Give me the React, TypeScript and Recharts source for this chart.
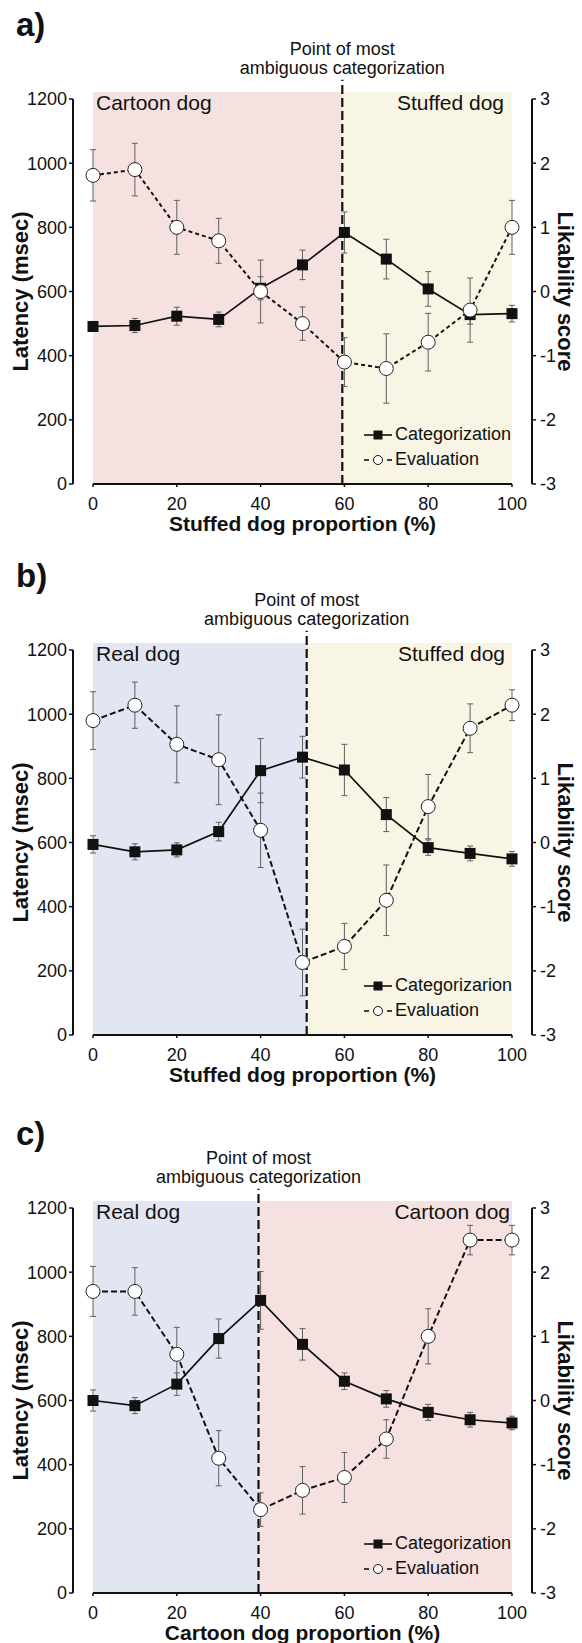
import React from "react";
import {
  ComposedChart,
  ErrorBar,
  Legend,
  Line,
  ReferenceArea,
  ReferenceLine,
  XAxis,
  YAxis,
} from "recharts";

const FONT = '"Liberation Sans", Arial, Helvetica, sans-serif';

const proportions = [0, 10, 20, 30, 40, 50, 60, 70, 80, 90, 100];
const xTicks = [0, 20, 40, 60, 80, 100];
const latencyTicks = [0, 200, 400, 600, 800, 1000, 1200];
const likabilityTicks = [-3, -2, -1, 0, 1, 2, 3];

// a) cartoon -> stuffed
const catA = [491, 494, 523, 513, 610, 683, 784, 701, 608, 528, 531];
const catErrA = [12, 22, 28, 23, 36, 46, 64, 62, 54, 30, 26];
const evalA = [1.81, 1.9, 1.0, 0.79, 0.0, -0.5, -1.1, -1.2, -0.79, -0.29, 1.0];
const evalErrA = [0.4, 0.41, 0.42, 0.35, 0.49, 0.26, 0.38, 0.54, 0.45, 0.5, 0.42];

// b) real -> stuffed
const catB = [594, 571, 577, 634, 824, 866, 826, 687, 584, 566, 549];
const catErrB = [27, 25, 22, 29, 100, 65, 80, 53, 24, 23, 23];
const evalB = [1.9, 2.14, 1.53, 1.29, 0.19, -1.87, -1.62, -0.9, 0.56, 1.78, 2.14];
const evalErrB = [0.45, 0.36, 0.6, 0.7, 0.58, 0.52, 0.36, 0.55, 0.5, 0.38, 0.24];

// c) real -> cartoon
const catC = [600, 584, 651, 793, 912, 775, 660, 605, 563, 540, 530];
const catErrC = [33, 25, 35, 61, 90, 49, 26, 26, 25, 23, 21];
const evalC = [1.7, 1.7, 0.72, -0.9, -1.7, -1.4, -1.2, -0.6, 1.0, 2.5, 2.5];
const evalErrC = [0.39, 0.37, 0.42, 0.43, 0.26, 0.37, 0.39, 0.3, 0.43, 0.23, 0.23];

const PINK = "#F6E1E1";
const CREAM = "#F9F5E5";
const BLUE = "#E2E5F2";

function AreaLabel(props: any) {
  const { viewBox, text, side, inset } = props;
  if (!viewBox) return null;
  const x = side === "left" ? viewBox.x + inset : viewBox.x + viewBox.width - inset;
  return (
    <text
      x={x}
      y={viewBox.y + 18}
      textAnchor={side === "left" ? "start" : "end"}
      fontSize={21}
      fontFamily={FONT}
      fill="#111"
    >
      {text}
    </text>
  );
}

function SplitLabel(props: any) {
  const { viewBox } = props;
  if (!viewBox) return null;
  const x = viewBox.x;
  return (
    <g fontSize={18} fontFamily={FONT} fill="#111" textAnchor="middle">
      <text x={x} y={viewBox.y - 25}>Point of most</text>
      <text x={x} y={viewBox.y - 6}>ambiguous categorization</text>
    </g>
  );
}

function XTitle(props: any) {
  const { viewBox, text } = props;
  if (!viewBox) return null;
  return (
    <text
      x={viewBox.x + viewBox.width / 2}
      y={viewBox.y + 46.5}
      textAnchor="middle"
      fontSize={21}
      fontWeight="bold"
      fontFamily={FONT}
      fill="#111"
    >
      {text}
    </text>
  );
}

function YTitle(props: any) {
  const { viewBox, text, side } = props;
  if (!viewBox) return null;
  const cy = viewBox.y + viewBox.height / 2;
  const x = side === "left" ? viewBox.x + 20 : viewBox.x + 34;
  const angle = side === "left" ? -90 : 90;
  return (
    <text
      x={x}
      y={cy}
      dy="0.36em"
      transform={`rotate(${angle}, ${x}, ${cy})`}
      textAnchor="middle"
      fontSize={22}
      fontWeight="bold"
      fontFamily={FONT}
      fill="#111"
    >
      {text}
    </text>
  );
}

function SquareDot(props: any) {
  const { cx, cy, index } = props;
  if (cx == null || cy == null) return <g key={`sq-${index}`} />;
  return <rect key={`sq-${index}`} x={cx - 5.5} y={cy - 5.5} width={11} height={11} fill="#111" />;
}

function LegendContent(props: any) {
  const { payload } = props;
  return (
    <div style={{ fontFamily: FONT, fontSize: 18, color: "#111" }}>
      {(payload || []).map((entry: any, i: number) => (
        <div key={i} style={{ display: "flex", alignItems: "center", height: 25 }}>
          <svg width={30} height={14} style={{ marginRight: 1 }}>
            {i === 0 ? (
              <>
                <line x1={0} y1={7} x2={28} y2={7} stroke="#111" strokeWidth={1.6} />
                <rect x={9.5} y={2.5} width={9} height={9} fill="#111" />
              </>
            ) : (
              <>
                <line x1={0} y1={7} x2={5} y2={7} stroke="#111" strokeWidth={1.6} />
                <line x1={23} y1={7} x2={28} y2={7} stroke="#111" strokeWidth={1.6} />
                <circle cx={14} cy={7} r={4.5} fill="#fff" stroke="#111" strokeWidth={1} />
              </>
            )}
          </svg>
          <span>{entry.value}</span>
        </div>
      ))}
    </div>
  );
}

interface PanelProps {
  top: number;
  letter: string;
  cat: number[];
  catErr: number[];
  ev: number[];
  evErr: number[];
  split: number;
  leftName: string;
  rightName: string;
  leftColor: string;
  rightColor: string;
  rightInset: number;
  xTitle: string;
  catName: string;
  evalDash: string;
}

function Panel(p: PanelProps) {
  const data = proportions.map((x, i) => ({
    x,
    cat: p.cat[i],
    catErr: p.catErr[i],
    ev: p.ev[i],
    evErr: p.evErr[i],
  }));
  const tickStyle = { fill: "#111", fontSize: 18, fontFamily: FONT };
  return (
    <div style={{ position: "absolute", left: 0, top: p.top, width: 582, height: 545 }}>
      <div
        style={{
          position: "absolute",
          left: 16,
          top: 8,
          fontFamily: FONT,
          fontWeight: "bold",
          fontSize: 33,
          lineHeight: "33px",
          color: "#111",
        }}
      >
        {p.letter}
      </div>
      <ComposedChart
        width={582}
        height={545}
        data={data}
        margin={{ top: 99, right: 0, bottom: 0, left: 0 }}
      >
        <XAxis
          dataKey="x"
          type="number"
          domain={[0, 100]}
          ticks={xTicks}
          padding={{ left: 20, right: 20 }}
          axisLine={false}
          tickLine={{ stroke: "#111", strokeWidth: 1.5 }}
          tickSize={3}
          tickMargin={10}
          height={61}
          tick={tickStyle}
          label={<XTitle text={p.xTitle} />}
        />
        <YAxis
          yAxisId="lat"
          domain={[0, 1200]}
          ticks={latencyTicks}
          width={73}
          axisLine={{ stroke: "#111", strokeWidth: 2 }}
          tickLine={{ stroke: "#111", strokeWidth: 1.5 }}
          tickSize={4}
          tickMargin={2}
          tick={tickStyle}
          label={<YTitle text="Latency (msec)" side="left" />}
        />
        <YAxis
          yAxisId="lik"
          orientation="right"
          domain={[-3, 3]}
          ticks={likabilityTicks}
          width={50}
          axisLine={{ stroke: "#111", strokeWidth: 2 }}
          tickLine={{ stroke: "#111", strokeWidth: 1.5 }}
          tickSize={4}
          tickMargin={4}
          tick={tickStyle}
          label={<YTitle text="Likability score" side="right" />}
        />
        <ReferenceArea
          yAxisId="lat"
          x1={0}
          x2={p.split}
          y1={0}
          y2={1222}
          fill={p.leftColor}
          fillOpacity={1}
          stroke="none"
          ifOverflow="visible"
          label={<AreaLabel text={p.leftName} side="left" inset={3} />}
        />
        <ReferenceArea
          yAxisId="lat"
          x1={p.split}
          x2={100}
          y1={0}
          y2={1222}
          fill={p.rightColor}
          fillOpacity={1}
          stroke="none"
          ifOverflow="visible"
          label={<AreaLabel text={p.rightName} side="right" inset={p.rightInset} />}
        />
        <ReferenceLine
          yAxisId="lat"
          segment={[
            { x: 0, y: 0 },
            { x: 100, y: 0 },
          ]}
          stroke="#111"
          strokeWidth={2}
          ifOverflow="visible"
        />
        <ReferenceLine
          yAxisId="lat"
          segment={[
            { x: p.split, y: 0 },
            { x: p.split, y: 1260 },
          ]}
          stroke="#111"
          strokeWidth={2.2}
          strokeDasharray="9 4"
          ifOverflow="visible"
          label={<SplitLabel />}
        />
        <Line
          yAxisId="lat"
          dataKey="cat"
          name={p.catName}
          stroke="#111"
          strokeWidth={1.7}
          dot={SquareDot}
          activeDot={false}
          isAnimationActive={false}
        >
          <ErrorBar dataKey="catErr" direction="y" width={3} stroke="#606060" strokeWidth={1} isAnimationActive={false} />
        </Line>
        <Line
          yAxisId="lik"
          dataKey="ev"
          name="Evaluation"
          stroke="#111"
          strokeWidth={2}
          strokeDasharray={p.evalDash}
          dot={{ r: 7, fill: "#fff", stroke: "#222", strokeWidth: 1, strokeDasharray: "none" }}
          activeDot={false}
          isAnimationActive={false}
        >
          <ErrorBar dataKey="evErr" direction="y" width={3} stroke="#606060" strokeWidth={1} isAnimationActive={false} />
        </Line>
        <Legend
          layout="vertical"
          align="center"
          verticalAlign="middle"
          content={<LegendContent />}
          wrapperStyle={{ left: 364, top: 422, width: 180, height: 50 }}
        />
      </ComposedChart>
    </div>
  );
}

export default function App() {
  return (
    <div
      style={{
        position: "absolute",
        left: 0,
        top: 0,
        width: 582,
        height: 1643,
        overflow: "hidden",
        background: "#fff",
      }}
    >
      <Panel
        top={0}
        letter="a)"
        cat={catA}
        catErr={catErrA}
        ev={evalA}
        evErr={evalErrA}
        split={59.5}
        leftName="Cartoon dog"
        rightName="Stuffed dog"
        leftColor={PINK}
        rightColor={CREAM}
        rightInset={8}
        xTitle="Stuffed dog proportion (%)"
        catName="Categorization"
        evalDash="4 3"
      />
      <Panel
        top={551}
        letter="b)"
        cat={catB}
        catErr={catErrB}
        ev={evalB}
        evErr={evalErrB}
        split={51}
        leftName="Real dog"
        rightName="Stuffed dog"
        leftColor={BLUE}
        rightColor={CREAM}
        rightInset={7}
        xTitle="Stuffed dog proportion (%)"
        catName="Categorizarion"
        evalDash="6 3"
      />
      <Panel
        top={1109}
        letter="c)"
        cat={catC}
        catErr={catErrC}
        ev={evalC}
        evErr={evalErrC}
        split={39.5}
        leftName="Real dog"
        rightName="Cartoon dog"
        leftColor={BLUE}
        rightColor={PINK}
        rightInset={2}
        xTitle="Cartoon dog proportion (%)"
        catName="Categorization"
        evalDash="6 3"
      />
    </div>
  );
}
